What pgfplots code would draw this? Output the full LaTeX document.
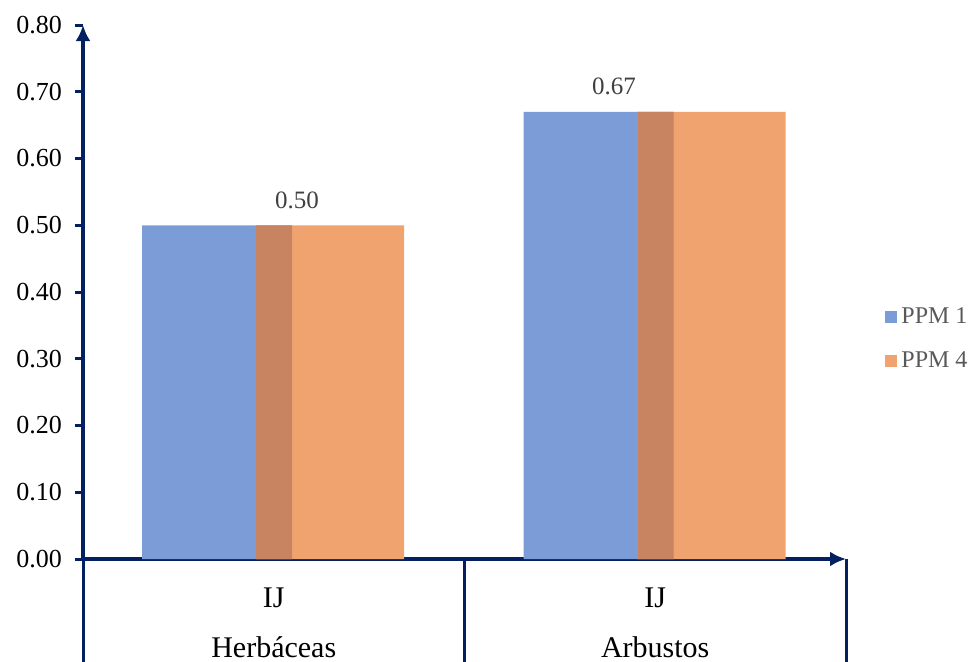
\documentclass[border=0pt]{standalone}
\usepackage{pgfplots}
\pgfplotsset{compat=1.18}
\usepackage{fontspec}
\setmainfont{Liberation Serif}
\usetikzlibrary{arrows.meta}

\definecolor{ppmblue}{RGB}{123,156,214}
\definecolor{ppmorange}{RGB}{240,163,110}
\definecolor{ppmoverlap}{RGB}{200,132,96}
\definecolor{axisnavy}{RGB}{5,32,96}
\definecolor{labelgray}{RGB}{64,64,64}
\definecolor{legendgray}{RGB}{89,89,89}

\begin{document}
\begin{tikzpicture}
\path[use as bounding box] (-41.5pt,-51.5pt) rectangle (444.5pt,279.5pt);
\begin{axis}[
  scale only axis,
  width=381.5pt, height=267pt,
  xmin=0, xmax=2, ymin=0, ymax=0.8,
  clip=false,
  axis x line=bottom, axis y line=left,
  axis line style={draw=axisnavy, line width=1.6pt},
  every outer x axis line/.append style={-{Latex[length=8pt,width=7.5pt]}},
  every outer y axis line/.append style={-{Latex[length=8pt,width=7.5pt]}},
  ytick={0,0.1,...,0.8},
  tick align=outside,
  ytick style={draw=axisnavy, line width=1.5pt},
  major tick length=4pt,
  xtick={0.5,1.5},
  xtick style={draw=none},
  xticklabels={{IJ\\[7pt]Herbáceas},{IJ\\[7pt]Arbustos}},
  xticklabel style={align=center, font=\fontsize{15}{18}\selectfont, text=black, yshift=-7pt},
  yticklabel style={font=\fontsize{13}{15}\selectfont, text=black, xshift=-3pt,
    /pgf/number format/.cd, fixed, fixed zerofill, precision=2, assume math mode=true},
  legend style={at={(1.0,0.412)}, anchor=west, xshift=16.5pt, draw=none, fill=none,
    font=\fontsize{12}{14}\selectfont, text=legendgray,
    row sep=8.5pt, /tikz/every even column/.append style={column sep=2pt}},
  legend cell align=left,
  legend image code/.code={\fill[#1] (0pt,-3pt) rectangle (6pt,3pt);},
]
% PPM 1
\addplot[ybar, bar width=0.393, bar shift=-0.1485, fill=ppmblue, draw=none]
  coordinates {(0.5,0.50) (1.5,0.67)};
\addlegendentry{PPM 1}
% PPM 4
\addplot[ybar, bar width=0.389, bar shift=0.1475, fill=ppmorange, draw=none]
  coordinates {(0.5,0.50) (1.5,0.67)};
\addlegendentry{PPM 4}
% region where both bars overlap
\addplot[ybar, bar width=0.095, bar shift=0.0005, fill=ppmoverlap, draw=none, forget plot]
  coordinates {(0.5,0.50) (1.5,0.67)};
% value labels
\addplot[only marks, mark=none, forget plot,
  nodes near coords,
  nodes near coords style={anchor=center, yshift=12.5pt, text=labelgray,
    font=\fontsize{12.5}{15}\selectfont,
    /pgf/number format/.cd, fixed, fixed zerofill, precision=2, assume math mode=true}]
  coordinates {(0.561,0.50) (1.392,0.67)};
% category separators below the axis
\draw[axisnavy, line width=1.5pt] (axis cs:0,0) -- (axis cs:0,-0.16);
\draw[axisnavy, line width=1.5pt] (axis cs:1,0) -- (axis cs:1,-0.16);
\draw[axisnavy, line width=1.5pt] (axis cs:2,0) -- (axis cs:2,-0.16);
\end{axis}
\end{tikzpicture}
\end{document}
